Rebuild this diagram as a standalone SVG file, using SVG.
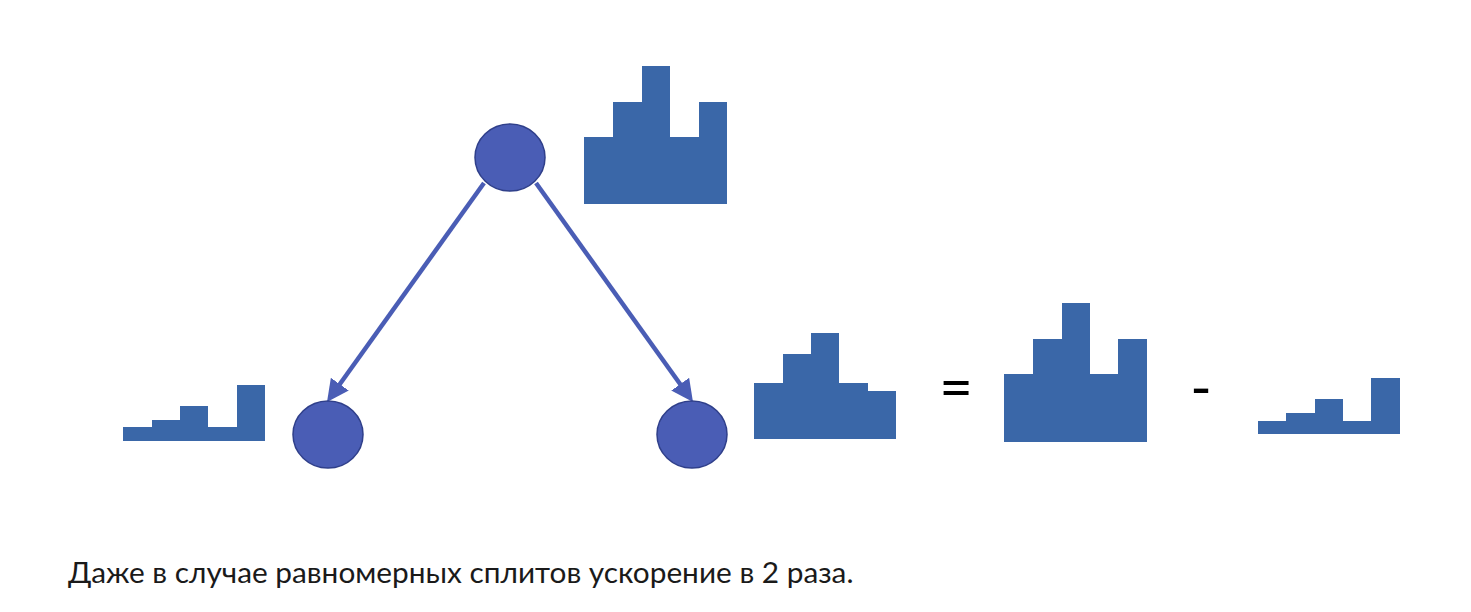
<svg xmlns="http://www.w3.org/2000/svg" width="1471" height="612" viewBox="0 0 1471 612">
<style>
.hist{fill:#3A67A8;}
.node{fill:#4A5DB5;stroke:#2F3F8A;stroke-width:1.5;}
.edge{stroke:#4A5DB5;stroke-width:4.5;fill:none;}
.op{font-family:Lato,"Liberation Sans",sans-serif;font-size:58px;fill:#000;text-anchor:middle;}
.cap{font-family:Lato,"Liberation Sans",sans-serif;font-size:29.8px;fill:#1a1a1a;}
</style>
<defs>
<marker id="ah" markerUnits="userSpaceOnUse" markerWidth="22" markerHeight="22" refX="10" refY="11" orient="auto" viewBox="0 0 22 22">
<path d="M0,0 L22,11 L0,22 Z" fill="#4A5DB5"/>
</marker>
</defs>
<rect width="1471" height="612" fill="#fff"/>
<g id="connectors">
<line class="edge" x1="484" y1="183" x2="334" y2="392.3" marker-end="url(#ah)"/>
<line class="edge" x1="536" y1="183" x2="686" y2="392.3" marker-end="url(#ah)"/>
</g>
<g id="root">
<ellipse class="node" cx="510" cy="157.5" rx="35" ry="33.5"/>
</g>
<g id="left-child">
<ellipse class="node" cx="328" cy="434.5" rx="35" ry="33.5"/>
</g>
<g id="right-child">
<ellipse class="node" cx="692" cy="434.5" rx="35" ry="33.5"/>
</g>
<g id="hist-root">
<path class="hist" d="M584,204 V137 H613 V102 H642 V66 H670 V137 H699 V102 H727 V204 Z"/>
</g>
<g id="hist-left">
<path class="hist" d="M123,441 V427 H152 V420 H180 V406 H208 V427 H237 V385 H265 V441 Z"/>
</g>
<g id="hist-right">
<path class="hist" d="M754,439 V383 H783 V354 H811 V333 H839 V383 H868 V391 H896 V439 Z"/>
</g>
<g id="equation">
<text class="op" x="956" y="408">=</text>
<path class="hist" d="M1004,442 V374 H1033 V339 H1062 V303 H1090 V374 H1118 V339 H1147 V442 Z"/>
<text class="op" x="1201" y="408">-</text>
<path class="hist" d="M1258,434 V421 H1286 V413 H1315 V399 H1343 V421 H1371 V378 H1400 V434 Z"/>
</g>
<text class="cap" x="68" y="583">Даже в случае равномерных сплитов ускорение в 2 раза.</text>
</svg>
